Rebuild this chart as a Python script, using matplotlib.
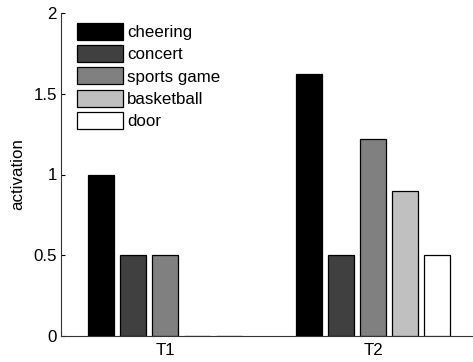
import matplotlib
matplotlib.use("Agg")
import matplotlib.pyplot as plt
import numpy as np

matplotlib.rcParams['font.family'] = ['Liberation Sans', 'DejaVu Sans']

groups = ["T1", "T2"]
series = ["cheering", "concert", "sports game", "basketball", "door"]
colors = ["#000000", "#404040", "#808080", "#c0c0c0", "#ffffff"]
values = [
    [1.0, 1.62],   # cheering
    [0.5, 0.5],    # concert
    [0.5, 1.22],   # sports game
    [0.0, 0.9],    # basketball
    [0.0, 0.5],    # door
]

fontsize = 12.2
W, H = 473, 362
fig = plt.figure(figsize=(W / 100, H / 100), dpi=100)
# axes run a little past the right edge, like the cropped original
ax = fig.add_axes([61 / W, 1 - 336 / H, (477 - 61) / W, (336 - 13) / H])

n = len(series)
x = np.arange(1, len(groups) + 1)
groupw = min(0.8, n / (n + 1.5))
step = groupw / n
barw = 0.8 * step
for i, (name, c, v) in enumerate(zip(series, colors, values)):
    off = (i - (n - 1) / 2) * step
    ax.bar(x + off, v, width=barw, color=c, edgecolor="black", linewidth=0.9,
           label=name, zorder=3)

ax.set_xlim(0.5, 2.5)
ax.set_ylim(0, 2)
ax.set_yticks([0, 0.5, 1, 1.5, 2])
ax.set_yticklabels(["0", "0.5", "1", "1.5", "2"])
ax.set_xticks(x)
ax.set_xticklabels(groups)
ax.tick_params(direction="in", length=3, labelsize=fontsize, width=0.8, pad=3)
ax.tick_params(axis="x", pad=5)
for s in ("top", "right"):
    ax.spines[s].set_visible(False)
for s in ("left", "bottom"):
    ax.spines[s].set_linewidth(0.8)
    ax.spines[s].set_color("#333333")
ax.set_ylabel("activation", fontsize=fontsize, labelpad=6)

fig.legend(loc="upper left", bbox_to_anchor=(77 / W, 1 - 23 / H), frameon=False,
           fontsize=fontsize, handlelength=2.7, handleheight=1.15,
           labelspacing=0.3, handletextpad=0.24, borderpad=0, borderaxespad=0)

fig.savefig("out.png", dpi=100)
plt.close(fig)
